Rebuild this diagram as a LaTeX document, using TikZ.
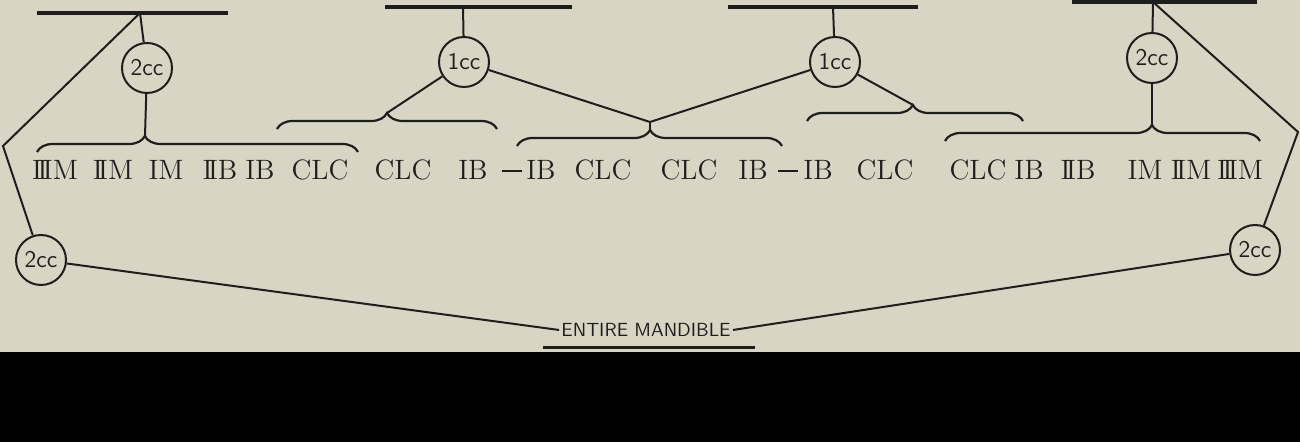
\documentclass[tikz,border=0pt]{standalone}
\usepackage{tikz}
\usetikzlibrary{decorations.pathreplacing}
\definecolor{paper}{RGB}{217,213,196}
\definecolor{ink}{RGB}{30,30,28}
\tikzstyle{dose}=[draw=ink,circle,line width=1pt,minimum size=25pt,inner sep=0pt,text=ink,font=\fontsize{12}{12}\selectfont\sffamily]
\tikzstyle{tooth}=[text=ink,inner sep=0pt,anchor=base,font=\fontsize{14}{14}\selectfont]
\tikzstyle{bar}=[draw=ink,line width=2.2pt]
\tikzstyle{wire}=[draw=ink,line width=1pt]
\tikzset{gbrace/.style={draw=ink,line width=1.1pt,decorate,decoration={brace,amplitude=8pt,aspect=#1}},gbrace/.default=0.5}
\newcommand{\tdash}{\rule[0.3em]{10pt}{0.8pt}}
\newcommand{\rtwo}{I\kern-2.2pt I}
\newcommand{\rthree}{I\kern-2.2pt I\kern-2.2pt I}

\begin{document}
\begin{tikzpicture}[x=0.5pt,y=-0.5pt]
\useasboundingbox (0,0) rectangle (1300,442);
\fill[paper] (0,0) rectangle (1300,352);
\fill[black] (0,352) rectangle (1300,442);

% bars at the top
\draw[bar] (37,13) -- (228,13);
\draw[bar] (385,7) -- (572,7);
\draw[bar] (728,7) -- (918,7);
\draw[bar] (1072,2) -- (1257,2);
\coordinate (b1) at (140,13);
\coordinate (b2) at (463,7);
\coordinate (b3) at (833,7);
\coordinate (b4) at (1153,2);

% doses
\node [dose] (c1) at (147,68) {2cc};
\node [dose] (c2) at (464,62) {1cc};
\node [dose] (c3) at (835,62) {1cc};
\node [dose] (c4) at (1152,58) {2cc};
\node [dose] (c5) at (41,260) {2cc};
\node [dose] (c6) at (1255,250) {2cc};

% braces over the teeth
\draw[gbrace=0.336] (37,152) -- (358,152);
\draw[gbrace] (277,129) -- (497,129);
\draw[gbrace=0.502] (517,146) -- (782,146);
\draw[gbrace=0.49] (807,121) -- (1023,121);
\draw[gbrace=0.657] (945,141) -- (1260,141);
\coordinate (t1) at (145,136);
\coordinate (t2) at (387,113);
\coordinate (j3) at (650,122);
\coordinate (t3) at (650,130);
\coordinate (t4) at (913,105);
\coordinate (t5) at (1152,125);

% teeth
\foreach \x/\t [count=\i] in {55/{\rthree M},113/{\rtwo M},166/IM,220/{\rtwo B},260/IB,320/CLC,
	403/CLC,473/IB,512/\tdash,541/IB,603/CLC,689/CLC,753/IB,788/\tdash,818/IB,
	885/CLC,978/CLC,1029/IB,1078/{\rtwo B},1145/IM,1191/{\rtwo M},1240/{\rthree M}}
	\node [tooth] (w\i) at (\x,180) {\t};

% whole jaw
\node [text=ink,inner sep=1pt,font=\fontsize{9.5}{10}\selectfont\sffamily] (em) at (646,330) {ENTIRE MANDIBLE};
\draw[ink,line width=1.5pt] (543,348) -- (755,348);

% left side
\draw[wire] (b1) -- (c1);
\draw[wire] (c1) -- (t1);
\coordinate (k1) at (3,146);
\draw[wire] (b1) -- (k1) -- (c5);
\draw[wire] (c5) -- (em.west);
% middle
\draw[wire] (b2) -- (c2);
\draw[wire] (c2) -- (t2);
\draw[wire] (c2) -- (j3);
\draw[wire] (b3) -- (c3);
\draw[wire] (c3) -- (j3);
\draw[wire] (j3) -- (t3);
\draw[wire] (c3) -- (t4);
% right side
\draw[wire] (b4) -- (c4);
\draw[wire] (c4) -- (t5);
\coordinate (k2) at (1298,132);
\draw[wire] (b4) -- (k2) -- (c6);
\draw[wire] (em.east) -- (c6);
\end{tikzpicture}
\end{document}
